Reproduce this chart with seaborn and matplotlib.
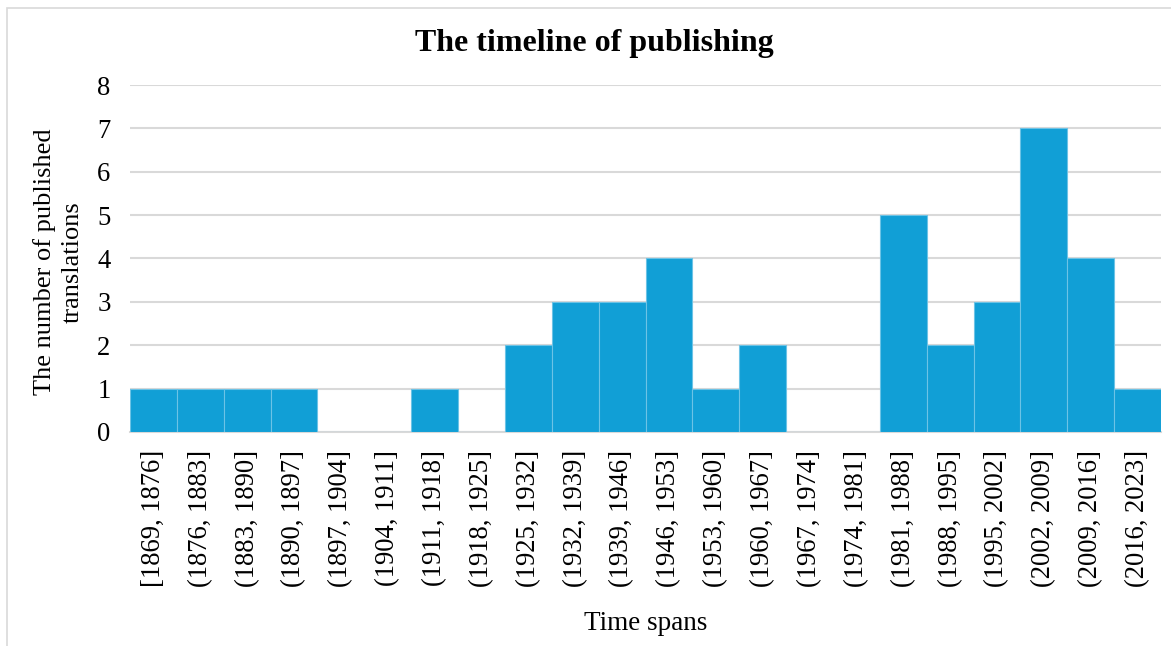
import matplotlib
matplotlib.use("Agg")
import matplotlib.pyplot as plt
import matplotlib.patches as mpatches
import seaborn as sns
import pandas as pd

spans = ["[1869, 1876]", "(1876, 1883]", "(1883, 1890]", "(1890, 1897]",
         "(1897, 1904]", "(1904, 1911]", "(1911, 1918]", "(1918, 1925]",
         "(1925, 1932]", "(1932, 1939]", "(1939, 1946]", "(1946, 1953]",
         "(1953, 1960]", "(1960, 1967]", "(1967, 1974]", "(1974, 1981]",
         "(1981, 1988]", "(1988, 1995]", "(1995, 2002]", "(2002, 2009]",
         "(2009, 2016]", "(2016, 2023]"]
counts = [1, 1, 1, 1, 0, 0, 1, 0, 2, 3, 3, 4, 1, 2, 0, 0, 5, 2, 3, 7, 4, 1]

sns.set_theme(style="white")
plt.rcParams["font.family"] = ["Liberation Serif", "DejaVu Serif"]
plt.rcParams["text.color"] = "black"
plt.rcParams["axes.labelcolor"] = "black"

df = pd.DataFrame({"span": spans, "count": counts})

fig = plt.figure(figsize=(11.71, 6.46), dpi=100)
ax = fig.add_axes([0.111, 0.3313, 0.8805, 0.5371])

sns.barplot(data=df, x="span", y="count", order=spans, color="#119fd6",
            saturation=1, width=1.0, edgecolor="#6cc3e6", linewidth=0.8,
            ax=ax, zorder=3)

ax.set_xlim(-0.5, len(spans) - 0.5)
ax.set_ylim(0, 8)
ax.set_yticks(range(0, 9))
ax.yaxis.grid(True, color="#d9d9d9", linewidth=1.5, zorder=0)
ax.set_axisbelow(True)
for side in ["top", "right", "left"]:
    ax.spines[side].set_visible(False)
ax.spines["bottom"].set_color("#d9d9d9")
ax.spines["bottom"].set_linewidth(1.5)

ax.tick_params(axis="both", length=0, labelsize=19.2, colors="black")
ax.tick_params(axis="x", pad=13, rotation=90)
ax.tick_params(axis="y", pad=14)

ax.set_xlabel("Time spans", fontsize=19.5, labelpad=17)
ax.set_ylabel("The number of published\ntranslations", fontsize=19,
              linespacing=1.35)
ax.yaxis.set_label_coords(-0.045, 0.49)

fig.text(594 / 1171, 1 - 43 / 646, "The timeline of publishing",
         fontsize=23, fontweight="bold", ha="center", va="center")

# chart frame
frame = mpatches.Rectangle((6.5 / 1171, -0.1), 1.2, 1.1 - 8.5 / 646,
                           transform=fig.transFigure, fill=False,
                           edgecolor="#d9d9d9", linewidth=1.2,
                           clip_on=False)
fig.patches.append(frame)

fig.savefig("out.png", dpi=100, facecolor="white")
